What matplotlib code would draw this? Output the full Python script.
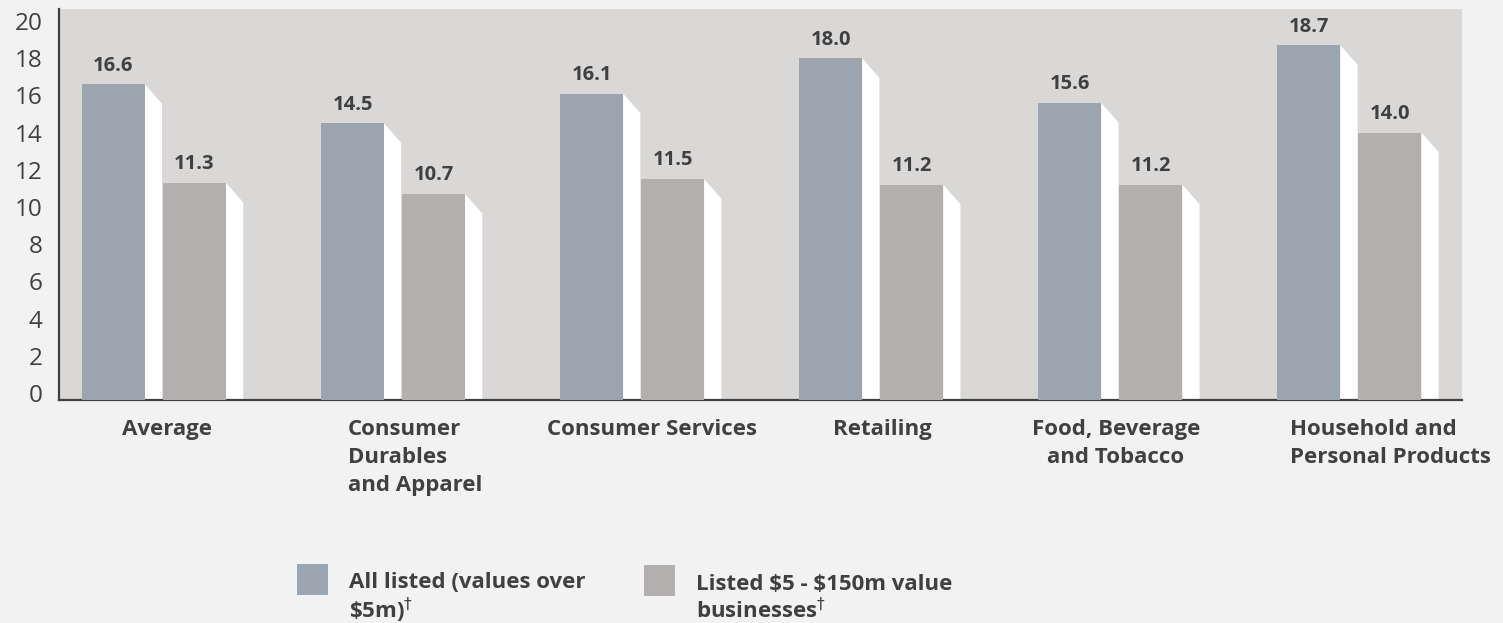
import matplotlib
matplotlib.use('Agg')
import matplotlib.pyplot as plt
from matplotlib.patches import Rectangle

categories = ['Average', 'Consumer\nDurables\nand Apparel', 'Consumer Services',
              'Retailing', 'Food, Beverage\nand Tobacco', 'Household and\nPersonal Products']
all_listed = [16.6, 14.5, 16.1, 18.0, 15.6, 18.7]
small_listed = [11.3, 10.7, 11.5, 11.2, 11.2, 14.0]
yticks = [0, 2, 4, 6, 8, 10, 12, 14, 16, 18, 20]
legend_labels = [('All listed (values over', r'\$5m)$^{\dagger}$'),
                 ('Listed $5 - $150m value', r'businesses$^{\dagger}$')]

# layout
label_dx = [0.356, 0.393, 0.384, 0.346, 0.325, 0.471]
label_align = ['center', 'left', 'center', 'center', 'center', 'left']
bar_w = 0.2635
gray_off = 0.339
side_w = 0.072
side_drop = 1.05
ymin, ymax = -0.38, 20.65

blue = '#9ba5b0'
grey = '#b3afae'
txt = '#404040'

plt.rcParams['font.family'] = ['Open Sans', 'DejaVu Sans']

W, H = 1503, 623
fig = plt.figure(figsize=(W / 100, H / 100), dpi=100, facecolor='#f2f2f2')
ax = fig.add_axes([59 / W, 1 - 400 / H, (1462 - 59) / W, (400 - 9) / H])
ax.set_facecolor('#d9d8d7')


def draw_bar(x, v, color):
    ax.fill([x + bar_w, x + bar_w + side_w, x + bar_w + side_w, x + bar_w],
            [v, v - side_drop, ymin, ymin], color='white', lw=0, zorder=2)
    ax.bar(x, v - ymin, bottom=ymin, width=bar_w, align='edge', color=color, lw=0, zorder=3)
    ax.annotate(f'{v:.1f}', (x + bar_w / 2, v), xytext=(0, 13.5), textcoords='offset points',
                ha='center', va='center', fontsize=14.5, fontweight='bold', color=txt)


for i in range(len(categories)):
    draw_bar(i, all_listed[i], blue)
    draw_bar(i + gray_off, small_listed[i], grey)
    ax.annotate(categories[i], (i + label_dx[i], 0), xycoords=('data', 'axes fraction'),
                xytext=(0, -13.5), textcoords='offset points', ha='center', va='top',
                multialignment=label_align[i], fontsize=16, fontweight='bold',
                color=txt, linespacing=1.45)

ax.set_xlim(-0.0958, 5.772)
ax.set_ylim(ymin, ymax)
ax.set_yticks(yticks)
ax.set_xticks([])
ax.tick_params(axis='y', length=0, pad=12, labelsize=17.5, labelcolor=txt)
for s in ['top', 'right']:
    ax.spines[s].set_visible(False)
for s in ['left', 'bottom']:
    ax.spines[s].set_color(txt)
    ax.spines[s].set_linewidth(1.6)

# legend
for (l1, l2), col, x0, y0 in zip(legend_labels, [blue, grey], [297, 644], [564, 565]):
    fig.add_artist(Rectangle((x0 / W, 1 - (y0 + 31) / H), 31 / W, 31 / H,
                             transform=fig.transFigure, color=col, lw=0))
    fig.text((x0 + 52) / W, 1 - (y0 + 19) / H, l1, ha='left', va='center',
             fontsize=16, fontweight='bold', color=txt, parse_math=False)
    fig.text((x0 + 52) / W, 1 - (y0 + 46) / H, l2, ha='left', va='center',
             fontsize=16, fontweight='bold', color=txt)

fig.savefig('out.png', dpi=100, facecolor=fig.get_facecolor())
